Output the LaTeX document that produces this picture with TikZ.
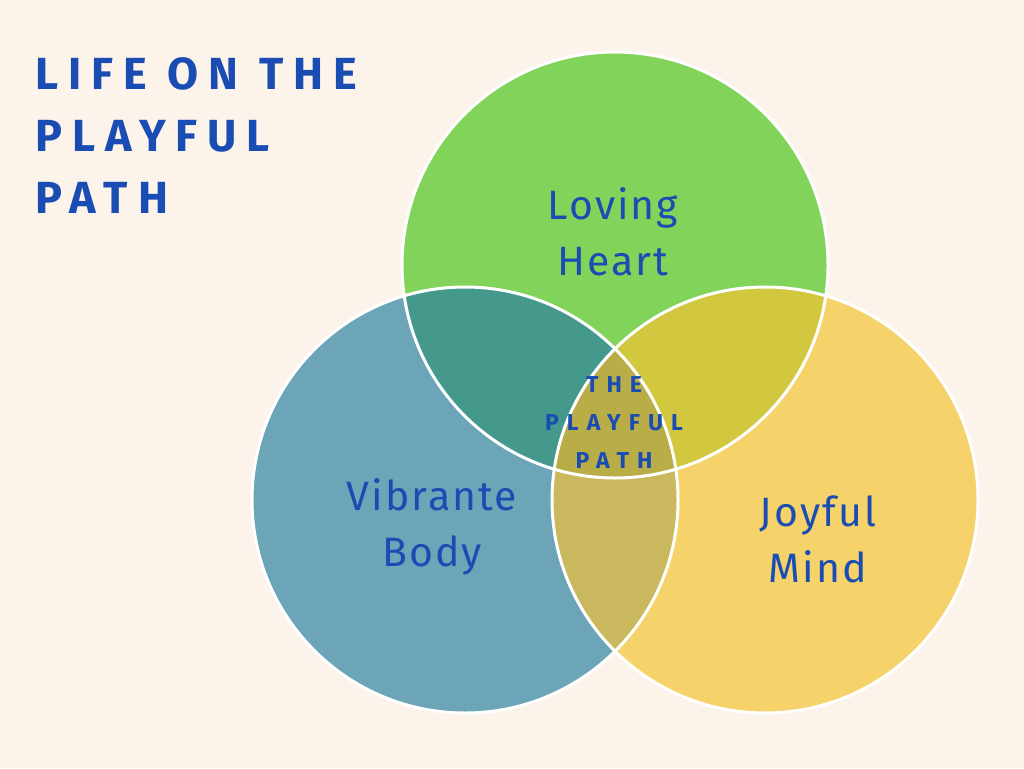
\documentclass[tikz,border=0pt]{standalone}
\usepackage{fontspec}
\setmainfont{Fira Sans}
\begin{document}
\begin{tikzpicture}[x=1pt,y=-1pt,
  lbl/.style={text=txt,font=\fontsize{41}{56}\selectfont\addfontfeature{LetterSpace=5},align=center},
  ttl/.style={text=txt,font=\fontsize{45}{62}\selectfont\bfseries\addfontfeature{LetterSpace=22},align=left,anchor=north west},
  ctr/.style={text=txt,font=\fontsize{23}{38}\selectfont\bfseries\addfontfeature{LetterSpace=35},align=center}]
\definecolor{bg}{HTML}{FCF3EA}
\definecolor{cg}{HTML}{82D35A}
\definecolor{cb}{HTML}{6CA5B8}
\definecolor{cy}{HTML}{F6D36A}
\definecolor{gb}{HTML}{45998C}
\definecolor{gy}{HTML}{D2C840}
\definecolor{by}{HTML}{C9B85E}
\definecolor{all}{HTML}{B9AD48}
\definecolor{txt}{HTML}{1A4DB3}
\fill[bg] (0,0) rectangle (1024,768);
\useasboundingbox (0,0) rectangle (1024,768);
\coordinate (G) at (615,265);
\coordinate (B) at (465,500);
\coordinate (Y) at (765,500);
\def\R{213}
\fill[cg] (G) circle (\R);
\fill[cb] (B) circle (\R);
\fill[cy] (Y) circle (\R);
\begin{scope}\clip (G) circle (\R); \fill[gb] (B) circle (\R); \fill[gy] (Y) circle (\R);\end{scope}
\begin{scope}\clip (B) circle (\R); \fill[by] (Y) circle (\R);
  \clip (Y) circle (\R); \fill[all] (G) circle (\R);\end{scope}
\draw[white,line width=3] (G) circle (\R) (B) circle (\R) (Y) circle (\R);
\node[ttl] (title) at (32,54) {LIFE ON THE\\PLAYFUL\\PATH};
\node[lbl] (heart) at (613,232) {Loving\\Heart};
\node[lbl] (body) at (432,527) {Vibrante\\Body};
\node[lbl] (mind) at (818,539) {Joyful\\Mind};
\node[ctr] (path) at (614,423) {THE\\PLAYFUL\\PATH};
\end{tikzpicture}
\end{document}
